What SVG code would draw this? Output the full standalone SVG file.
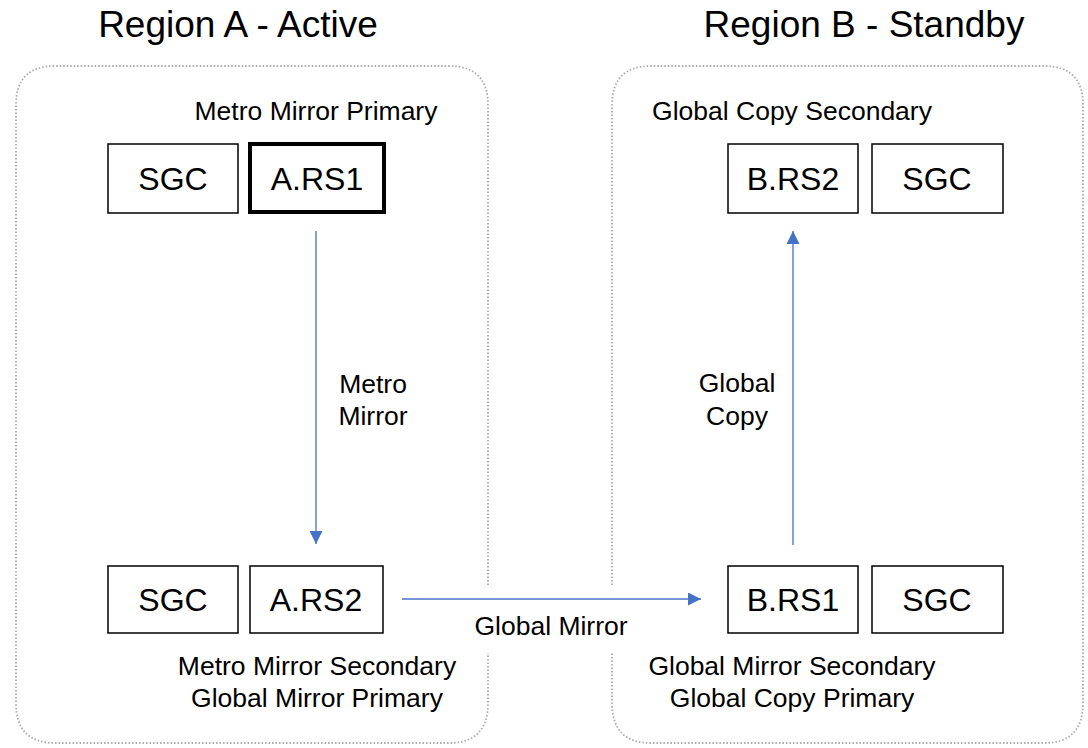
<svg xmlns="http://www.w3.org/2000/svg" width="1088" height="748" viewBox="0 0 1088 748">
<style>
text{font-family:"Liberation Sans",Arial,sans-serif;fill:#000;text-anchor:middle}
.title{font-size:37px}
.lbl{font-size:26.5px}
.box{fill:#fff;stroke:#000;stroke-width:1.5}
.boxtxt{font-size:32px}
.region{fill:none;stroke:#aaa;stroke-width:1.8;stroke-dasharray:1.5 2}
.conn{stroke:#4472C4;stroke-width:1.3;fill:none}
</style>
<defs>
<marker id="ah" viewBox="0 0 10 10" refX="10" refY="5" markerWidth="13" markerHeight="13" markerUnits="userSpaceOnUse" orient="auto">
<path d="M0,0 L10,5 L0,10 z" fill="#4472C4"/>
</marker>
</defs>
<rect width="1088" height="748" fill="#fff"/>
<text class="title" x="238" y="37">Region A - Active</text>
<text class="title" x="864" y="37">Region B - Standby</text>
<g id="regionA">
<path class="region" d="M488,585 L488,105 Q488,66 449,66 L55,66 Q16,66 16,105 L16,703 Q16,743 55,743 L449,743 Q488,743 488,703 L488,653"/>
</g>
<g id="regionB">
<path class="region" d="M612,585 L612,105 Q612,66 651,66 L1044,66 Q1083,66 1083,105 L1083,703 Q1083,743 1044,743 L651,743 Q612,743 612,703 L612,653"/>
</g>
<text class="lbl" x="316" y="120">Metro Mirror Primary</text>
<text class="lbl" x="792" y="120">Global Copy Secondary</text>
<text class="lbl" x="317" y="675">Metro Mirror Secondary</text>
<text class="lbl" x="317" y="707">Global Mirror Primary</text>
<text class="lbl" x="792" y="675">Global Mirror Secondary</text>
<text class="lbl" x="792" y="707">Global Copy Primary</text>
<g id="sgcA1"><rect class="box" x="108" y="144" width="130" height="69"/><text class="boxtxt" x="173" y="190">SGC</text></g>
<g id="ARS1"><rect x="250" y="144" width="134" height="68" fill="#fff" stroke="#000" stroke-width="4"/><text class="boxtxt" x="317" y="190">A.RS1</text></g>
<g id="sgcA2"><rect class="box" x="108" y="566" width="130" height="67"/><text class="boxtxt" x="173" y="611">SGC</text></g>
<g id="ARS2"><rect class="box" x="250" y="566" width="133" height="67"/><text class="boxtxt" x="316" y="611">A.RS2</text></g>
<g id="BRS2"><rect class="box" x="728" y="144" width="130" height="69"/><text class="boxtxt" x="793" y="190">B.RS2</text></g>
<g id="sgcB2"><rect class="box" x="872" y="144" width="131" height="69"/><text class="boxtxt" x="937" y="190">SGC</text></g>
<g id="BRS1"><rect class="box" x="728" y="566" width="130" height="67"/><text class="boxtxt" x="793" y="611">B.RS1</text></g>
<g id="sgcB1"><rect class="box" x="872" y="566" width="131" height="67"/><text class="boxtxt" x="937" y="611">SGC</text></g>
<g id="connectors">
<line class="conn" x1="316" y1="231" x2="316" y2="544" marker-end="url(#ah)"/>
<line class="conn" x1="402" y1="599" x2="701" y2="599" marker-end="url(#ah)"/>
<line class="conn" x1="793" y1="545" x2="793" y2="231" marker-end="url(#ah)"/>
<text class="lbl" x="373" y="393">Metro</text>
<text class="lbl" x="373" y="425">Mirror</text>
<text class="lbl" x="737" y="392">Global</text>
<text class="lbl" x="737" y="425">Copy</text>
<text class="lbl" x="551" y="635">Global Mirror</text>
</g>
</svg>
